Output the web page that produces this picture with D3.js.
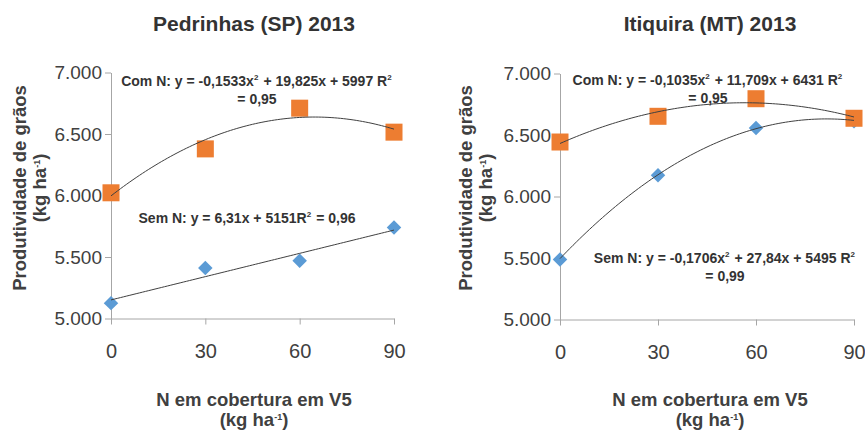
<!DOCTYPE html>
<html>
<head>
<meta charset="utf-8">
<script src="https://cdn.jsdelivr.net/npm/d3@7"></script>
<style>
  body { margin: 0; background: #fff; }
  svg { display: block; font-family: "Liberation Sans", Arial, sans-serif; }
</style>
</head>
<body>
<svg id="chart" width="865" height="432"></svg>
<script>
// doses of N (x) and y ticks
const doses = [0, 30, 60, 90];
const yTicks = [5000, 5500, 6000, 6500, 7000];

// Pedrinhas (SP) 2013
const pedrinhasComN = [6022, 6379, 6710, 6515];
const pedrinhasSemN = [5125, 5410, 5470, 5740];
const pedrinhasComCoef = [-0.1533, 19.825, 5997];
const pedrinhasSemCoef = [0, 6.31, 5151];

// Itiquira (MT) 2013
const itiquiraComN = [6443, 6652, 6795, 6636];
const itiquiraSemN = [5488, 6172, 6556, 6612];
const itiquiraComCoef = [-0.1035, 11.709, 6431];
const itiquiraSemCoef = [-0.1706, 27.84, 5495];

const ptBR = d3.formatLocale({ decimal: ",", thousands: ".", grouping: [3], currency: ["R$", ""] });
const fmt = ptBR.format(",");

const svg = d3.select("#chart");

// equation lines: arrays of [text, isSuperscript]
function drawEquation(g, x, y, lines) {
    lines.forEach((parts, i) => {
        const t = g.append("text")
            .attr("x", x)
            .attr("y", y + i * 17.5)
            .attr("text-anchor", "middle")
            .attr("font-size", 14)
            .attr("font-weight", "bold")
            .attr("fill", "#333");
        parts.forEach(([s, sup]) => {
            if (sup) {
                t.append("tspan").attr("font-size", 8).attr("dy", -6).text(s);
                t.append("tspan").attr("font-size", 14).attr("dy", 6).text("\u200a");
            } else {
                t.append("tspan").text(s);
            }
        });
    });
}

// "(kg ha-1)" with a small superscript
function unitText(sel) {
    sel.append("tspan").text("(kg ha");
    sel.append("tspan").attr("dy", -6).attr("font-size", 9).text("-1");
    sel.append("tspan").attr("dy", 6).text(")");
}

function panel(o) {
    const x = d3.scaleLinear().domain([0, 90]).range(o.xRange);
    const y = d3.scaleLinear().domain([5000, 7000]).range(o.yRange);
    const g = svg.append("g");

    // title
    g.append("text")
        .attr("x", o.titleX).attr("y", 31)
        .attr("text-anchor", "middle")
        .attr("font-size", 21).attr("font-weight", "bold")
        .attr("fill", "#333")
        .text(o.title);

    // y axis
    const ya = g.append("g")
        .attr("transform", `translate(${o.xRange[0]},0)`)
        .call(d3.axisLeft(y).tickValues(yTicks).tickFormat(fmt).tickSize(6).tickSizeOuter(0).tickPadding(3));
    ya.selectAll("text").attr("font-size", 19).attr("fill", "#404040").attr("font-family", null);

    // x axis
    const xa = g.append("g")
        .attr("transform", `translate(0,${o.yRange[0]})`)
        .call(d3.axisBottom(x).tickValues(doses).tickSize(6).tickSizeOuter(0).tickPadding(19));
    xa.selectAll("text").attr("font-size", 20).attr("fill", "#404040").attr("font-family", null);

    g.selectAll(".domain, .tick line").attr("stroke", "#a6a6a6");

    // axis titles
    const yTitle = g.append("g")
        .attr("transform", `translate(${o.yTitleX},188) rotate(-90)`)
        .attr("text-anchor", "middle")
        .attr("font-size", 18.5).attr("font-weight", "bold")
        .attr("fill", "#404040");
    yTitle.append("text").attr("y", 0).text("Produtividade de grãos");
    yTitle.append("text").attr("y", 20).call(unitText);

    const xTitle = g.append("g")
        .attr("text-anchor", "middle")
        .attr("font-size", 18.5).attr("font-weight", "bold")
        .attr("fill", "#404040");
    xTitle.append("text").attr("x", o.xTitleX).attr("y", 406).text("N em cobertura em V5");
    xTitle.append("text").attr("x", o.xTitleX).attr("y", 426).call(unitText);

    // markers: diamonds (Sem N), squares (Com N)
    g.append("g").selectAll("path")
        .data(doses.map((d, i) => [d, o.sem[i]]))
        .join("path")
        .attr("d", d3.symbol(d3.symbolSquare, 105)())
        .attr("transform", d => `translate(${x(d[0])},${y(d[1])}) rotate(45)`)
        .attr("fill", "#5b9bd5");

    g.append("g").selectAll("rect")
        .data(doses.map((d, i) => [d, o.com[i]]))
        .join("rect")
        .attr("x", d => x(d[0]) - 8.5)
        .attr("y", d => y(d[1]) - 8.5)
        .attr("width", 17).attr("height", 17)
        .attr("fill", "#ed7d31");

    // trend lines from the fitted equations
    const xs = d3.range(0, 90.5, 1);
    const line = d3.line().x(d => x(d[0])).y(d => y(d[1]));
    [o.comCoef, o.semCoef].forEach(c => {
        g.append("path")
            .datum(xs.map(v => [v, c[0] * v * v + c[1] * v + c[2]]))
            .attr("d", line)
            .attr("fill", "none")
            .attr("stroke", "#404040")
            .attr("stroke-width", 1);
    });

    drawEquation(g, o.comEq.x, o.comEq.y, o.comEq.lines);
    drawEquation(g, o.semEq.x, o.semEq.y, o.semEq.lines);
}

panel({
    title: "Pedrinhas (SP) 2013", titleX: 254,
    xRange: [111, 394], yRange: [318.5, 72.5],
    yTitleX: 26, xTitleX: 254,
    com: pedrinhasComN, sem: pedrinhasSemN,
    comCoef: pedrinhasComCoef, semCoef: pedrinhasSemCoef,
    comEq: { x: 257, y: 86, lines: [
        [["Com N: y = -0,1533x"], ["2", true], [" + 19,825x + 5997 R"], ["2", true]],
        [["= 0,95"]]
    ] },
    semEq: { x: 247, y: 223, lines: [
        [["Sem N: y = 6,31x + 5151R"], ["2", true], [" = 0,96"]]
    ] }
});

panel({
    title: "Itiquira (MT) 2013", titleX: 710,
    xRange: [560, 854], yRange: [319.5, 73.5],
    yTitleX: 472, xTitleX: 710,
    com: itiquiraComN, sem: itiquiraSemN,
    comCoef: itiquiraComCoef, semCoef: itiquiraSemCoef,
    comEq: { x: 708, y: 85, lines: [
        [["Com N: y = -0,1035x"], ["2", true], [" + 11,709x + 6431 R"], ["2", true]],
        [["= 0,95"]]
    ] },
    semEq: { x: 725, y: 263, lines: [
        [["Sem N: y = -0,1706x"], ["2", true], [" + 27,84x + 5495 R"], ["2", true]],
        [["= 0,99"]]
    ] }
});
</script>
</body>
</html>
